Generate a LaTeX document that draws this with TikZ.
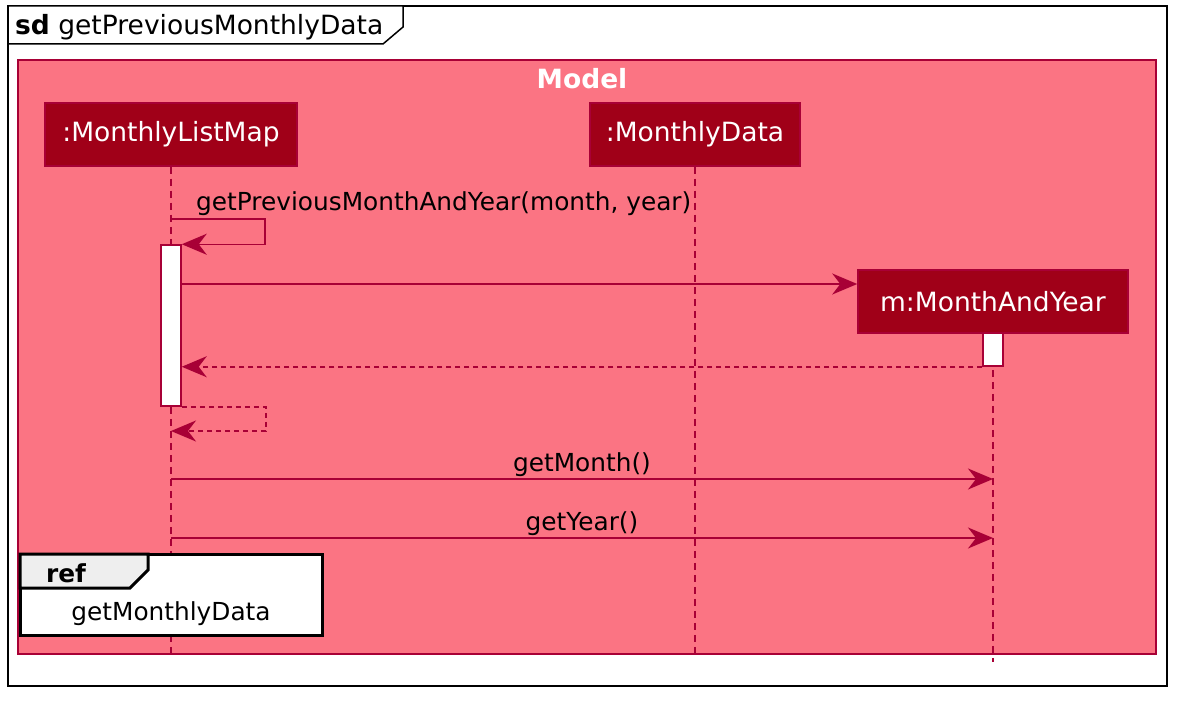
\documentclass[tikz,border=0pt]{standalone}
\usepackage{fontspec}
\setmainfont{DejaVu Sans}
\usetikzlibrary{arrows.meta}
\definecolor{pumlred}{RGB}{168,0,54}
\definecolor{partfill}{RGB}{160,0,24}
\definecolor{modelfill}{RGB}{251,116,131}
\definecolor{tabgray}{RGB}{238,238,238}
\newcommand{\msgfont}{\fontsize{24.8}{28}\selectfont}
\newcommand{\partfont}{\fontsize{26.5}{30}\selectfont}
\tikzset{
  participant/.style={draw=pumlred, line width=1.5pt, fill=partfill, text=white, inner sep=0pt, font=\partfont},
  lifeline/.style={draw=pumlred, line width=1.4pt, dash pattern=on 7pt off 5pt},
  activation/.style={draw=pumlred, line width=1.5pt, fill=white, minimum width=20pt, inner sep=0pt},
  msg/.style={draw=pumlred, line width=1.5pt, -{Stealth[length=25pt,width=21pt,inset=8pt]}},
  retmsg/.style={msg, dash pattern=on 5pt off 4pt},
  lbl/.style={inner sep=0pt, font=\msgfont, text=black},
}
\begin{document}
\begin{tikzpicture}[x=1pt,y=-1pt]
\useasboundingbox (0,0) rectangle (1187,706);
% outer frame
\draw[line width=1.5pt, black, fill=white] (8,6) rectangle (1167,686);
\draw[line width=1.5pt, black, fill=white] (8,6) -- (403,6) -- (403,27) -- (383,44) -- (8,44) -- cycle;
\node[anchor=base west, inner sep=0pt, font=\fontsize{26.5}{30}\selectfont] (title) at (15,35) {\textbf{sd} getPreviousMonthlyData};
% Model box
\draw[draw=pumlred, line width=1.2pt, fill=modelfill] (18,60) rectangle (1156,654);
\node[anchor=base, inner sep=0pt, text=white, font=\bfseries\fontsize{26.5}{30}\selectfont] (model) at (582,89) {Model};
% participants
\node[participant, minimum width=252pt, minimum height=63pt] (p1) at (171,134.5) {:MonthlyListMap};
\node[participant, minimum width=210pt, minimum height=63pt] (p2) at (695,134.5) {:MonthlyData};
\node[participant, minimum width=270pt, minimum height=63pt] (p3) at (993,301.5) {m:MonthAndYear};
% lifeline ends
\coordinate (e1) at (171,656);
\coordinate (e2) at (695,656);
\coordinate (e3) at (993,662);
\draw[lifeline] (p1.south) -- (e1);
\draw[lifeline] (p2.south) -- (e2);
\draw[lifeline] (p3.south) -- (e3);
% activations
\node[activation, minimum height=161pt] (a1) at (171,325.5) {};
\node[activation, minimum height=33pt] (a2) at (993,349.5) {};
% self call
\coordinate (s1) at (171,219);
\draw[msg] (s1) -- ++(94,0) |- (a1.north east);
\node[lbl, anchor=base west] (l1) at (196,211) {getPreviousMonthAndYear(month, year)};
% create
\coordinate (c1) at (0,284);
\draw[msg] (a1.east |- c1) -- (p3.west |- c1);
% return
\draw[retmsg] (a2.south west) -- (a1.east |- a2.south west);
% self return
\coordinate (s2) at (171,431);
\draw[retmsg] (a1.south east) -- ++(84,0) |- (s2);
% getMonth
\coordinate (g1a) at (171,479);
\coordinate (g1b) at (993,479);
\draw[msg] (g1a) -- (g1b);
\node[lbl, anchor=base] (l2) at (582,471) {getMonth()};
% getYear
\coordinate (g2a) at (171,538);
\coordinate (g2b) at (993,538);
\draw[msg] (g2a) -- (g2b);
\node[lbl, anchor=base] (l3) at (582,530) {getYear()};
% ref
\draw[line width=3pt, black, fill=white] (20,554) rectangle (322,635);
\draw[line width=3pt, black, fill=tabgray] (20,554) -- (148,554) -- (148,570) -- (130,588) -- (20,588) -- cycle;
\node[anchor=base west, inner sep=0pt, font=\bfseries\fontsize{24.8}{28}\selectfont] (ref) at (46,582) {ref};
\node[lbl, anchor=base] (refl) at (171,620) {getMonthlyData};
\end{tikzpicture}
\end{document}
